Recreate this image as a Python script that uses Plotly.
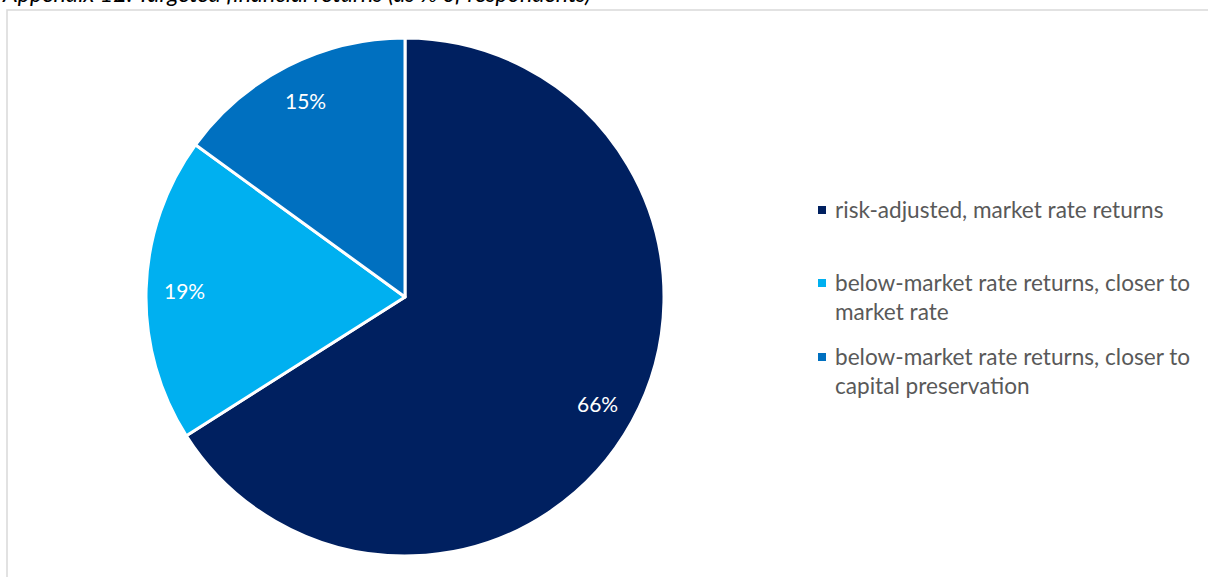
import math
import plotly.graph_objects as go

# Survey shares for targeted financial returns
categories = [
    "risk-adjusted, market rate returns",
    "below-market rate returns, closer to<br>market rate",
    "below-market rate returns, closer to<br>capital preservation",
]
shares = [66, 19, 15]
colors = ["#002060", "#00B0F0", "#0070C0"]
title_text = "Appendix 12: Targeted financial returns (as % of respondents)"

W, H = 1208, 577
FONT = "Lato, 'Open Sans', sans-serif"

# Pie geometry in pixels
cx, cy, r = 405, 297, 259

fig = go.Figure(
    go.Pie(
        labels=categories,
        values=shares,
        sort=False,
        direction="clockwise",
        rotation=0,
        marker=dict(colors=colors, line=dict(color="white", width=3)),
        textinfo="none",
        hoverinfo="label+percent",
        showlegend=False,
        domain=dict(
            x=[(cx - r) / W, (cx + r) / W],
            y=[(H - cy - r) / H, (H - cy + r) / H],
        ),
    )
)

annotations = []
shapes = []

# Percentage labels placed inside each slice at its mid-angle
total = sum(shares)
cum = 0
for v in shares:
    mid = (cum + v / 2) / total * 2 * math.pi
    cum += v
    d = 0.85 * r
    px = cx + d * math.sin(mid)
    py = cy - d * math.cos(mid)
    annotations.append(dict(
        x=px / W, y=1 - py / H, xref="paper", yref="paper",
        text=f"{v}%", showarrow=False,
        font=dict(family=FONT, size=21, color="white"),
        xanchor="center", yanchor="middle",
    ))

# Legend: colour swatch plus wrapped label for each category
legend_rows = [210, 283, 357]
for name, col, ly in zip(categories, colors, legend_rows):
    shapes.append(dict(
        type="rect", xref="paper", yref="paper",
        x0=818 / W, x1=826 / W, y0=1 - (ly + 4) / H, y1=1 - (ly - 4) / H,
        fillcolor=col, line=dict(width=0),
    ))
    annotations.append(dict(
        x=833 / W, y=1 - (ly - 16) / H, xref="paper", yref="paper",
        text=name, showarrow=False, align="left",
        font=dict(family=FONT, size=22.6, color="#595959"),
        xanchor="left", yanchor="top",
    ))

# Title, running off the top edge of the page
annotations.append(dict(
    x=0, y=1 - 9 / H, xref="paper", yref="paper",
    text=f"<i>{title_text}</i>", showarrow=False,
    font=dict(family=FONT, size=23.3, color="#000000"),
    xanchor="left", yanchor="bottom",
))

# Chart-area frame
shapes.append(dict(
    type="rect", xref="paper", yref="paper",
    x0=7 / W, x1=1.05, y0=-0.05, y1=1 - 10 / H,
    line=dict(color="#D9D9D9", width=1.5), fillcolor="rgba(0,0,0,0)", layer="below",
))

fig.update_layout(
    width=W, height=H,
    margin=dict(l=0, r=0, t=0, b=0),
    paper_bgcolor="white",
    plot_bgcolor="white",
    annotations=annotations,
    shapes=shapes,
    font=dict(family=FONT),
)

fig.write_html("out.html")
